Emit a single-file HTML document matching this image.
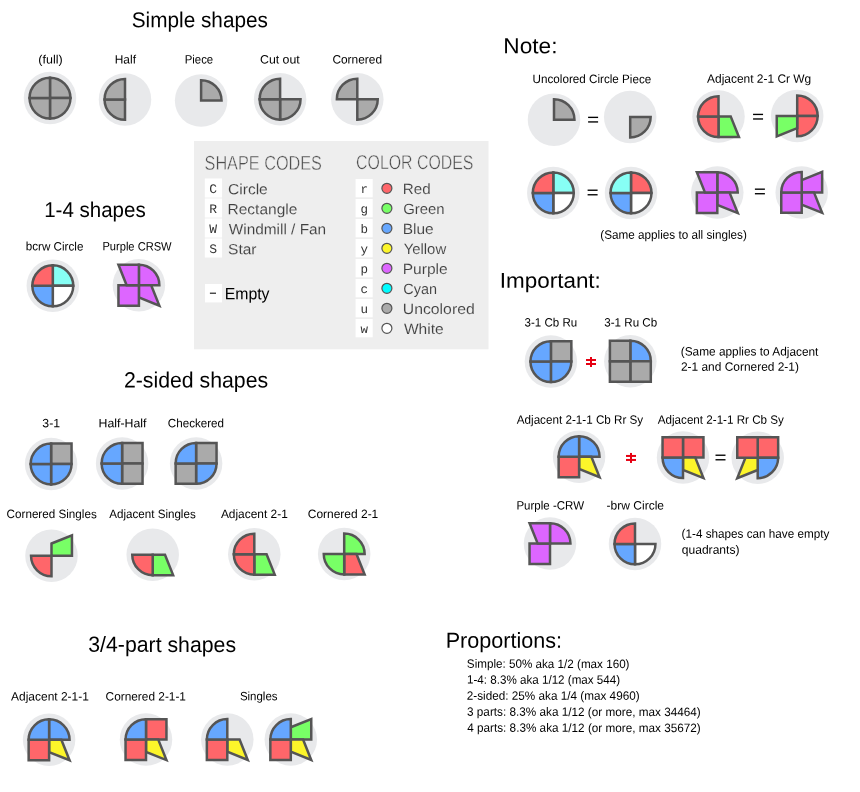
<!DOCTYPE html><html><head><meta charset="utf-8"><style>html,body{margin:0;padding:0;background:#fff}svg{display:block;will-change:transform;text-rendering:geometricPrecision}</style></head><body><svg width="860" height="792" viewBox="0 0 860 792" font-family="Liberation Sans, sans-serif"><rect width="860" height="792" fill="#fff"/><rect x="194" y="141" width="294.5" height="208.3" fill="#eeeeee"/><rect x="204.8" y="178.5" width="17.3" height="19" fill="#fff"/><rect x="204.8" y="198.5" width="17.3" height="19" fill="#fff"/><rect x="204.8" y="218.5" width="17.3" height="19" fill="#fff"/><rect x="204.8" y="238.5" width="17.3" height="19" fill="#fff"/><rect x="205" y="284" width="17" height="18.4" fill="#fff"/><rect x="355.6" y="179.0" width="17.1" height="18.3" fill="#fff"/><rect x="355.6" y="199.0" width="17.1" height="18.3" fill="#fff"/><rect x="355.6" y="219.0" width="17.1" height="18.3" fill="#fff"/><rect x="355.6" y="239.0" width="17.1" height="18.3" fill="#fff"/><rect x="355.6" y="259.0" width="17.1" height="18.3" fill="#fff"/><rect x="355.6" y="279.0" width="17.1" height="18.3" fill="#fff"/><rect x="355.6" y="299.0" width="17.1" height="18.3" fill="#fff"/><rect x="355.6" y="319.0" width="17.1" height="18.3" fill="#fff"/><circle cx="386.9" cy="188.3" r="5" fill="#ff666a" stroke="#555" stroke-width="1.2"/><circle cx="386.9" cy="208.3" r="5" fill="#78ff66" stroke="#555" stroke-width="1.2"/><circle cx="386.9" cy="228.3" r="5" fill="#66a7ff" stroke="#555" stroke-width="1.2"/><circle cx="386.9" cy="248.3" r="5" fill="#fcf52a" stroke="#555" stroke-width="1.2"/><circle cx="386.9" cy="268.3" r="5" fill="#dd66ff" stroke="#555" stroke-width="1.2"/><circle cx="386.9" cy="288.3" r="5" fill="#00fcff" stroke="#555" stroke-width="1.2"/><circle cx="386.9" cy="308.3" r="5" fill="#aaaaaa" stroke="#555" stroke-width="1.2"/><circle cx="386.9" cy="328.3" r="5" fill="#ffffff" stroke="#555" stroke-width="1.2"/><text x="213.2" y="192.8" font-family="Liberation Mono, monospace" font-size="13" fill="#333" text-anchor="middle">C</text><text x="213.2" y="212.8" font-family="Liberation Mono, monospace" font-size="13" fill="#333" text-anchor="middle">R</text><text x="213.2" y="232.8" font-family="Liberation Mono, monospace" font-size="13" fill="#333" text-anchor="middle">W</text><text x="213.2" y="252.8" font-family="Liberation Mono, monospace" font-size="13" fill="#333" text-anchor="middle">S</text><text x="364.3" y="193.0" font-family="Liberation Mono, monospace" font-size="12.5" fill="#333" text-anchor="middle">r</text><text x="364.3" y="213.0" font-family="Liberation Mono, monospace" font-size="12.5" fill="#333" text-anchor="middle">g</text><text x="364.3" y="233.0" font-family="Liberation Mono, monospace" font-size="12.5" fill="#333" text-anchor="middle">b</text><text x="364.3" y="253.0" font-family="Liberation Mono, monospace" font-size="12.5" fill="#333" text-anchor="middle">y</text><text x="364.3" y="273.0" font-family="Liberation Mono, monospace" font-size="12.5" fill="#333" text-anchor="middle">p</text><text x="364.3" y="293.0" font-family="Liberation Mono, monospace" font-size="12.5" fill="#333" text-anchor="middle">c</text><text x="364.3" y="313.0" font-family="Liberation Mono, monospace" font-size="12.5" fill="#333" text-anchor="middle">u</text><text x="364.3" y="333.0" font-family="Liberation Mono, monospace" font-size="12.5" fill="#333" text-anchor="middle">w</text><rect x="209.9" y="292.65" width="6.1" height="1.1" fill="#111"/><g transform="translate(50,98.1)"><circle r="26.25" fill="#e8e9eb"/><path transform="rotate(0)" d="M0,0L0,-20.45A20.45,20.45 0 0 1 20.45,0Z" fill="#aaaaaa" stroke="#555555" stroke-width="2.5" stroke-miterlimit="10"/><path transform="rotate(90)" d="M0,0L0,-20.45A20.45,20.45 0 0 1 20.45,0Z" fill="#aaaaaa" stroke="#555555" stroke-width="2.5" stroke-miterlimit="10"/><path transform="rotate(180)" d="M0,0L0,-20.45A20.45,20.45 0 0 1 20.45,0Z" fill="#aaaaaa" stroke="#555555" stroke-width="2.5" stroke-miterlimit="10"/><path transform="rotate(270)" d="M0,0L0,-20.45A20.45,20.45 0 0 1 20.45,0Z" fill="#aaaaaa" stroke="#555555" stroke-width="2.5" stroke-miterlimit="10"/></g><g transform="translate(125,99.4)"><circle r="26.25" fill="#e8e9eb"/><path transform="rotate(180)" d="M0,0L0,-20.45A20.45,20.45 0 0 1 20.45,0Z" fill="#aaaaaa" stroke="#555555" stroke-width="2.5" stroke-miterlimit="10"/><path transform="rotate(270)" d="M0,0L0,-20.45A20.45,20.45 0 0 1 20.45,0Z" fill="#aaaaaa" stroke="#555555" stroke-width="2.5" stroke-miterlimit="10"/></g><g transform="translate(201.1,100.6)"><circle r="26.25" fill="#e8e9eb"/><path transform="rotate(0)" d="M0,0L0,-20.45A20.45,20.45 0 0 1 20.45,0Z" fill="#aaaaaa" stroke="#555555" stroke-width="2.5" stroke-miterlimit="10"/></g><g transform="translate(280.1,99.2)"><circle r="26.25" fill="#e8e9eb"/><path transform="rotate(90)" d="M0,0L0,-20.45A20.45,20.45 0 0 1 20.45,0Z" fill="#aaaaaa" stroke="#555555" stroke-width="2.5" stroke-miterlimit="10"/><path transform="rotate(180)" d="M0,0L0,-20.45A20.45,20.45 0 0 1 20.45,0Z" fill="#aaaaaa" stroke="#555555" stroke-width="2.5" stroke-miterlimit="10"/><path transform="rotate(270)" d="M0,0L0,-20.45A20.45,20.45 0 0 1 20.45,0Z" fill="#aaaaaa" stroke="#555555" stroke-width="2.5" stroke-miterlimit="10"/></g><g transform="translate(357.3,99.2)"><circle r="26.25" fill="#e8e9eb"/><path transform="rotate(90)" d="M0,0L0,-20.45A20.45,20.45 0 0 1 20.45,0Z" fill="#aaaaaa" stroke="#555555" stroke-width="2.5" stroke-miterlimit="10"/><path transform="rotate(270)" d="M0,0L0,-20.45A20.45,20.45 0 0 1 20.45,0Z" fill="#aaaaaa" stroke="#555555" stroke-width="2.5" stroke-miterlimit="10"/></g><g transform="translate(52.8,285.8)"><circle r="26.25" fill="#e8e9eb"/><path transform="rotate(0)" d="M0,0L0,-20.45A20.45,20.45 0 0 1 20.45,0Z" fill="#87fff5" stroke="#555555" stroke-width="2.5" stroke-miterlimit="10"/><path transform="rotate(90)" d="M0,0L0,-20.45A20.45,20.45 0 0 1 20.45,0Z" fill="#ffffff" stroke="#555555" stroke-width="2.5" stroke-miterlimit="10"/><path transform="rotate(180)" d="M0,0L0,-20.45A20.45,20.45 0 0 1 20.45,0Z" fill="#66a7ff" stroke="#555555" stroke-width="2.5" stroke-miterlimit="10"/><path transform="rotate(270)" d="M0,0L0,-20.45A20.45,20.45 0 0 1 20.45,0Z" fill="#ff666a" stroke="#555555" stroke-width="2.5" stroke-miterlimit="10"/></g><g transform="translate(138.9,285.2)"><circle r="26.25" fill="#e8e9eb"/><path transform="rotate(0)" d="M0,0L0,-20.45A20.45,20.45 0 0 1 20.45,0Z" fill="#dd66ff" stroke="#555555" stroke-width="2.5" stroke-miterlimit="10"/><path transform="rotate(90)" d="M0,-12.27L20.45,-20.45L12.27,0L0,0Z" fill="#dd66ff" stroke="#555555" stroke-width="2.5" stroke-miterlimit="10"/><path transform="rotate(180)" d="M0,0L0,-20.45L20.45,-20.45L20.45,0Z" fill="#dd66ff" stroke="#555555" stroke-width="2.5" stroke-miterlimit="10"/><path transform="rotate(270)" d="M0,-12.27L20.45,-20.45L20.45,0L0,0Z" fill="#dd66ff" stroke="#555555" stroke-width="2.5" stroke-miterlimit="10"/></g><g transform="translate(51.1,464.0)"><circle r="26.25" fill="#e8e9eb"/><path transform="rotate(0)" d="M0,0L0,-20.45L20.45,-20.45L20.45,0Z" fill="#aaaaaa" stroke="#555555" stroke-width="2.5" stroke-miterlimit="10"/><path transform="rotate(90)" d="M0,0L0,-20.45A20.45,20.45 0 0 1 20.45,0Z" fill="#66a7ff" stroke="#555555" stroke-width="2.5" stroke-miterlimit="10"/><path transform="rotate(180)" d="M0,0L0,-20.45A20.45,20.45 0 0 1 20.45,0Z" fill="#66a7ff" stroke="#555555" stroke-width="2.5" stroke-miterlimit="10"/><path transform="rotate(270)" d="M0,0L0,-20.45A20.45,20.45 0 0 1 20.45,0Z" fill="#66a7ff" stroke="#555555" stroke-width="2.5" stroke-miterlimit="10"/></g><g transform="translate(122.1,463.4)"><circle r="26.25" fill="#e8e9eb"/><path transform="rotate(0)" d="M0,0L0,-20.45L20.45,-20.45L20.45,0Z" fill="#aaaaaa" stroke="#555555" stroke-width="2.5" stroke-miterlimit="10"/><path transform="rotate(90)" d="M0,0L0,-20.45L20.45,-20.45L20.45,0Z" fill="#aaaaaa" stroke="#555555" stroke-width="2.5" stroke-miterlimit="10"/><path transform="rotate(180)" d="M0,0L0,-20.45A20.45,20.45 0 0 1 20.45,0Z" fill="#66a7ff" stroke="#555555" stroke-width="2.5" stroke-miterlimit="10"/><path transform="rotate(270)" d="M0,0L0,-20.45A20.45,20.45 0 0 1 20.45,0Z" fill="#66a7ff" stroke="#555555" stroke-width="2.5" stroke-miterlimit="10"/></g><g transform="translate(196.1,463.4)"><circle r="26.25" fill="#e8e9eb"/><path transform="rotate(0)" d="M0,0L0,-20.45L20.45,-20.45L20.45,0Z" fill="#aaaaaa" stroke="#555555" stroke-width="2.5" stroke-miterlimit="10"/><path transform="rotate(90)" d="M0,0L0,-20.45A20.45,20.45 0 0 1 20.45,0Z" fill="#66a7ff" stroke="#555555" stroke-width="2.5" stroke-miterlimit="10"/><path transform="rotate(180)" d="M0,0L0,-20.45L20.45,-20.45L20.45,0Z" fill="#aaaaaa" stroke="#555555" stroke-width="2.5" stroke-miterlimit="10"/><path transform="rotate(270)" d="M0,0L0,-20.45A20.45,20.45 0 0 1 20.45,0Z" fill="#66a7ff" stroke="#555555" stroke-width="2.5" stroke-miterlimit="10"/></g><g transform="translate(51.5,555.8)"><circle r="26.25" fill="#e8e9eb"/><path transform="rotate(0)" d="M0,-12.27L20.45,-20.45L20.45,0L0,0Z" fill="#78ff66" stroke="#555555" stroke-width="2.5" stroke-miterlimit="10"/><path transform="rotate(180)" d="M0,0L0,-20.45A20.45,20.45 0 0 1 20.45,0Z" fill="#ff666a" stroke="#555555" stroke-width="2.5" stroke-miterlimit="10"/></g><g transform="translate(152.7,554.7)"><circle r="26.25" fill="#e8e9eb"/><path transform="rotate(90)" d="M0,-12.27L20.45,-20.45L20.45,0L0,0Z" fill="#78ff66" stroke="#555555" stroke-width="2.5" stroke-miterlimit="10"/><path transform="rotate(180)" d="M0,0L0,-20.45A20.45,20.45 0 0 1 20.45,0Z" fill="#ff666a" stroke="#555555" stroke-width="2.5" stroke-miterlimit="10"/></g><g transform="translate(254.3,554.2)"><circle r="26.25" fill="#e8e9eb"/><path transform="rotate(90)" d="M0,-12.27L20.45,-20.45L20.45,0L0,0Z" fill="#78ff66" stroke="#555555" stroke-width="2.5" stroke-miterlimit="10"/><path transform="rotate(180)" d="M0,0L0,-20.45A20.45,20.45 0 0 1 20.45,0Z" fill="#ff666a" stroke="#555555" stroke-width="2.5" stroke-miterlimit="10"/><path transform="rotate(270)" d="M0,0L0,-20.45A20.45,20.45 0 0 1 20.45,0Z" fill="#ff666a" stroke="#555555" stroke-width="2.5" stroke-miterlimit="10"/></g><g transform="translate(344.2,554.0)"><circle r="26.25" fill="#e8e9eb"/><path transform="rotate(0)" d="M0,0L0,-20.45A20.45,20.45 0 0 1 20.45,0Z" fill="#78ff66" stroke="#555555" stroke-width="2.5" stroke-miterlimit="10"/><path transform="rotate(90)" d="M0,-12.27L20.45,-20.45L20.45,0L0,0Z" fill="#ff666a" stroke="#555555" stroke-width="2.5" stroke-miterlimit="10"/><path transform="rotate(180)" d="M0,0L0,-20.45A20.45,20.45 0 0 1 20.45,0Z" fill="#78ff66" stroke="#555555" stroke-width="2.5" stroke-miterlimit="10"/></g><g transform="translate(49.1,739.8)"><circle r="26.25" fill="#e8e9eb"/><path transform="rotate(0)" d="M0,0L0,-20.45A20.45,20.45 0 0 1 20.45,0Z" fill="#66a7ff" stroke="#555555" stroke-width="2.5" stroke-miterlimit="10"/><path transform="rotate(90)" d="M0,-12.27L20.45,-20.45L12.27,0L0,0Z" fill="#fcf52a" stroke="#555555" stroke-width="2.5" stroke-miterlimit="10"/><path transform="rotate(180)" d="M0,0L0,-20.45L20.45,-20.45L20.45,0Z" fill="#ff666a" stroke="#555555" stroke-width="2.5" stroke-miterlimit="10"/><path transform="rotate(270)" d="M0,0L0,-20.45A20.45,20.45 0 0 1 20.45,0Z" fill="#66a7ff" stroke="#555555" stroke-width="2.5" stroke-miterlimit="10"/></g><g transform="translate(146.0,739.6)"><circle r="26.25" fill="#e8e9eb"/><path transform="rotate(0)" d="M0,0L0,-20.45L20.45,-20.45L20.45,0Z" fill="#ff666a" stroke="#555555" stroke-width="2.5" stroke-miterlimit="10"/><path transform="rotate(90)" d="M0,-12.27L20.45,-20.45L12.27,0L0,0Z" fill="#fcf52a" stroke="#555555" stroke-width="2.5" stroke-miterlimit="10"/><path transform="rotate(180)" d="M0,0L0,-20.45L20.45,-20.45L20.45,0Z" fill="#ff666a" stroke="#555555" stroke-width="2.5" stroke-miterlimit="10"/><path transform="rotate(270)" d="M0,0L0,-20.45A20.45,20.45 0 0 1 20.45,0Z" fill="#66a7ff" stroke="#555555" stroke-width="2.5" stroke-miterlimit="10"/></g><g transform="translate(227.3,739.5)"><circle r="26.25" fill="#e8e9eb"/><path transform="rotate(90)" d="M0,-12.27L20.45,-20.45L12.27,0L0,0Z" fill="#fcf52a" stroke="#555555" stroke-width="2.5" stroke-miterlimit="10"/><path transform="rotate(180)" d="M0,0L0,-20.45L20.45,-20.45L20.45,0Z" fill="#ff666a" stroke="#555555" stroke-width="2.5" stroke-miterlimit="10"/><path transform="rotate(270)" d="M0,0L0,-20.45A20.45,20.45 0 0 1 20.45,0Z" fill="#66a7ff" stroke="#555555" stroke-width="2.5" stroke-miterlimit="10"/></g><g transform="translate(290.8,739.5)"><circle r="26.25" fill="#e8e9eb"/><path transform="rotate(0)" d="M0,-12.27L20.45,-20.45L20.45,0L0,0Z" fill="#78ff66" stroke="#555555" stroke-width="2.5" stroke-miterlimit="10"/><path transform="rotate(90)" d="M0,-12.27L20.45,-20.45L12.27,0L0,0Z" fill="#fcf52a" stroke="#555555" stroke-width="2.5" stroke-miterlimit="10"/><path transform="rotate(180)" d="M0,0L0,-20.45L20.45,-20.45L20.45,0Z" fill="#ff666a" stroke="#555555" stroke-width="2.5" stroke-miterlimit="10"/><path transform="rotate(270)" d="M0,0L0,-20.45A20.45,20.45 0 0 1 20.45,0Z" fill="#66a7ff" stroke="#555555" stroke-width="2.5" stroke-miterlimit="10"/></g><g transform="translate(554.0,119.7)"><circle r="26.25" fill="#e8e9eb"/><path transform="rotate(0)" d="M0,0L0,-20.45A20.45,20.45 0 0 1 20.45,0Z" fill="#aaaaaa" stroke="#555555" stroke-width="2.5" stroke-miterlimit="10"/></g><g transform="translate(630.2,117.0)"><circle r="26.25" fill="#e8e9eb"/><path transform="rotate(90)" d="M0,0L0,-20.45A20.45,20.45 0 0 1 20.45,0Z" fill="#aaaaaa" stroke="#555555" stroke-width="2.5" stroke-miterlimit="10"/></g><g transform="translate(718.5,116.6)"><circle r="26.25" fill="#e8e9eb"/><path transform="rotate(90)" d="M0,-12.27L20.45,-20.45L20.45,0L0,0Z" fill="#78ff66" stroke="#555555" stroke-width="2.5" stroke-miterlimit="10"/><path transform="rotate(180)" d="M0,0L0,-20.45A20.45,20.45 0 0 1 20.45,0Z" fill="#ff666a" stroke="#555555" stroke-width="2.5" stroke-miterlimit="10"/><path transform="rotate(270)" d="M0,0L0,-20.45A20.45,20.45 0 0 1 20.45,0Z" fill="#ff666a" stroke="#555555" stroke-width="2.5" stroke-miterlimit="10"/></g><g transform="translate(797.2,115.9)"><circle r="26.25" fill="#e8e9eb"/><path transform="rotate(0)" d="M0,0L0,-20.45A20.45,20.45 0 0 1 20.45,0Z" fill="#ff666a" stroke="#555555" stroke-width="2.5" stroke-miterlimit="10"/><path transform="rotate(90)" d="M0,0L0,-20.45A20.45,20.45 0 0 1 20.45,0Z" fill="#ff666a" stroke="#555555" stroke-width="2.5" stroke-miterlimit="10"/><path transform="rotate(180)" d="M0,-12.27L20.45,-20.45L20.45,0L0,0Z" fill="#78ff66" stroke="#555555" stroke-width="2.5" stroke-miterlimit="10"/></g><g transform="translate(553.3,192.9)"><circle r="26.25" fill="#e8e9eb"/><path transform="rotate(0)" d="M0,0L0,-20.45A20.45,20.45 0 0 1 20.45,0Z" fill="#87fff5" stroke="#555555" stroke-width="2.5" stroke-miterlimit="10"/><path transform="rotate(90)" d="M0,0L0,-20.45A20.45,20.45 0 0 1 20.45,0Z" fill="#ffffff" stroke="#555555" stroke-width="2.5" stroke-miterlimit="10"/><path transform="rotate(180)" d="M0,0L0,-20.45A20.45,20.45 0 0 1 20.45,0Z" fill="#66a7ff" stroke="#555555" stroke-width="2.5" stroke-miterlimit="10"/><path transform="rotate(270)" d="M0,0L0,-20.45A20.45,20.45 0 0 1 20.45,0Z" fill="#ff666a" stroke="#555555" stroke-width="2.5" stroke-miterlimit="10"/></g><g transform="translate(631.0,192.9)"><circle r="26.25" fill="#e8e9eb"/><path transform="rotate(0)" d="M0,0L0,-20.45A20.45,20.45 0 0 1 20.45,0Z" fill="#ff666a" stroke="#555555" stroke-width="2.5" stroke-miterlimit="10"/><path transform="rotate(90)" d="M0,0L0,-20.45A20.45,20.45 0 0 1 20.45,0Z" fill="#ffffff" stroke="#555555" stroke-width="2.5" stroke-miterlimit="10"/><path transform="rotate(180)" d="M0,0L0,-20.45A20.45,20.45 0 0 1 20.45,0Z" fill="#66a7ff" stroke="#555555" stroke-width="2.5" stroke-miterlimit="10"/><path transform="rotate(270)" d="M0,0L0,-20.45A20.45,20.45 0 0 1 20.45,0Z" fill="#87fff5" stroke="#555555" stroke-width="2.5" stroke-miterlimit="10"/></g><g transform="translate(717.3,192.6)"><circle r="26.25" fill="#e8e9eb"/><path transform="rotate(0)" d="M0,0L0,-20.45A20.45,20.45 0 0 1 20.45,0Z" fill="#dd66ff" stroke="#555555" stroke-width="2.5" stroke-miterlimit="10"/><path transform="rotate(90)" d="M0,-12.27L20.45,-20.45L12.27,0L0,0Z" fill="#dd66ff" stroke="#555555" stroke-width="2.5" stroke-miterlimit="10"/><path transform="rotate(180)" d="M0,0L0,-20.45L20.45,-20.45L20.45,0Z" fill="#dd66ff" stroke="#555555" stroke-width="2.5" stroke-miterlimit="10"/><path transform="rotate(270)" d="M0,-12.27L20.45,-20.45L20.45,0L0,0Z" fill="#dd66ff" stroke="#555555" stroke-width="2.5" stroke-miterlimit="10"/></g><g transform="translate(801.7,192.4)"><circle r="26.25" fill="#e8e9eb"/><path transform="rotate(0)" d="M0,-12.27L20.45,-20.45L20.45,0L0,0Z" fill="#dd66ff" stroke="#555555" stroke-width="2.5" stroke-miterlimit="10"/><path transform="rotate(90)" d="M0,-12.27L20.45,-20.45L12.27,0L0,0Z" fill="#dd66ff" stroke="#555555" stroke-width="2.5" stroke-miterlimit="10"/><path transform="rotate(180)" d="M0,0L0,-20.45L20.45,-20.45L20.45,0Z" fill="#dd66ff" stroke="#555555" stroke-width="2.5" stroke-miterlimit="10"/><path transform="rotate(270)" d="M0,0L0,-20.45A20.45,20.45 0 0 1 20.45,0Z" fill="#dd66ff" stroke="#555555" stroke-width="2.5" stroke-miterlimit="10"/></g><g transform="translate(550.9,361.6)"><circle r="26.25" fill="#e8e9eb"/><path transform="rotate(0)" d="M0,0L0,-20.45L20.45,-20.45L20.45,0Z" fill="#aaaaaa" stroke="#555555" stroke-width="2.5" stroke-miterlimit="10"/><path transform="rotate(90)" d="M0,0L0,-20.45A20.45,20.45 0 0 1 20.45,0Z" fill="#66a7ff" stroke="#555555" stroke-width="2.5" stroke-miterlimit="10"/><path transform="rotate(180)" d="M0,0L0,-20.45A20.45,20.45 0 0 1 20.45,0Z" fill="#66a7ff" stroke="#555555" stroke-width="2.5" stroke-miterlimit="10"/><path transform="rotate(270)" d="M0,0L0,-20.45A20.45,20.45 0 0 1 20.45,0Z" fill="#66a7ff" stroke="#555555" stroke-width="2.5" stroke-miterlimit="10"/></g><g transform="translate(630.35,361.2)"><circle r="26.25" fill="#e8e9eb"/><path transform="rotate(0)" d="M0,0L0,-20.45A20.45,20.45 0 0 1 20.45,0Z" fill="#66a7ff" stroke="#555555" stroke-width="2.5" stroke-miterlimit="10"/><path transform="rotate(90)" d="M0,0L0,-20.45L20.45,-20.45L20.45,0Z" fill="#aaaaaa" stroke="#555555" stroke-width="2.5" stroke-miterlimit="10"/><path transform="rotate(180)" d="M0,0L0,-20.45L20.45,-20.45L20.45,0Z" fill="#aaaaaa" stroke="#555555" stroke-width="2.5" stroke-miterlimit="10"/><path transform="rotate(270)" d="M0,0L0,-20.45L20.45,-20.45L20.45,0Z" fill="#aaaaaa" stroke="#555555" stroke-width="2.5" stroke-miterlimit="10"/></g><g transform="translate(579.1,456.7)"><circle r="26.25" fill="#e8e9eb"/><path transform="rotate(0)" d="M0,0L0,-20.45A20.45,20.45 0 0 1 20.45,0Z" fill="#66a7ff" stroke="#555555" stroke-width="2.5" stroke-miterlimit="10"/><path transform="rotate(90)" d="M0,-12.27L20.45,-20.45L12.27,0L0,0Z" fill="#fcf52a" stroke="#555555" stroke-width="2.5" stroke-miterlimit="10"/><path transform="rotate(180)" d="M0,0L0,-20.45L20.45,-20.45L20.45,0Z" fill="#ff666a" stroke="#555555" stroke-width="2.5" stroke-miterlimit="10"/><path transform="rotate(270)" d="M0,0L0,-20.45A20.45,20.45 0 0 1 20.45,0Z" fill="#66a7ff" stroke="#555555" stroke-width="2.5" stroke-miterlimit="10"/></g><g transform="translate(683.0,457.6)"><circle r="26.25" fill="#e8e9eb"/><path transform="rotate(0)" d="M0,0L0,-20.45L20.45,-20.45L20.45,0Z" fill="#ff666a" stroke="#555555" stroke-width="2.5" stroke-miterlimit="10"/><path transform="rotate(90)" d="M0,-12.27L20.45,-20.45L12.27,0L0,0Z" fill="#fcf52a" stroke="#555555" stroke-width="2.5" stroke-miterlimit="10"/><path transform="rotate(180)" d="M0,0L0,-20.45A20.45,20.45 0 0 1 20.45,0Z" fill="#66a7ff" stroke="#555555" stroke-width="2.5" stroke-miterlimit="10"/><path transform="rotate(270)" d="M0,0L0,-20.45L20.45,-20.45L20.45,0Z" fill="#ff666a" stroke="#555555" stroke-width="2.5" stroke-miterlimit="10"/></g><g transform="translate(757.7,457.7)"><circle r="26.25" fill="#e8e9eb"/><path transform="rotate(0)" d="M0,0L0,-20.45L20.45,-20.45L20.45,0Z" fill="#ff666a" stroke="#555555" stroke-width="2.5" stroke-miterlimit="10"/><path transform="rotate(90)" d="M0,0L0,-20.45A20.45,20.45 0 0 1 20.45,0Z" fill="#66a7ff" stroke="#555555" stroke-width="2.5" stroke-miterlimit="10"/><path transform="rotate(180)" d="M0,-12.27L20.45,-20.45L12.27,0L0,0Z" fill="#fcf52a" stroke="#555555" stroke-width="2.5" stroke-miterlimit="10"/><path transform="rotate(270)" d="M0,0L0,-20.45L20.45,-20.45L20.45,0Z" fill="#ff666a" stroke="#555555" stroke-width="2.5" stroke-miterlimit="10"/></g><g transform="translate(550.0,543.6)"><circle r="26.25" fill="#e8e9eb"/><path transform="rotate(0)" d="M0,0L0,-20.45A20.45,20.45 0 0 1 20.45,0Z" fill="#dd66ff" stroke="#555555" stroke-width="2.5" stroke-miterlimit="10"/><path transform="rotate(180)" d="M0,0L0,-20.45L20.45,-20.45L20.45,0Z" fill="#dd66ff" stroke="#555555" stroke-width="2.5" stroke-miterlimit="10"/><path transform="rotate(270)" d="M0,-12.27L20.45,-20.45L20.45,0L0,0Z" fill="#dd66ff" stroke="#555555" stroke-width="2.5" stroke-miterlimit="10"/></g><g transform="translate(635.0,543.9)"><circle r="26.25" fill="#e8e9eb"/><path transform="rotate(90)" d="M0,0L0,-20.45A20.45,20.45 0 0 1 20.45,0Z" fill="#ffffff" stroke="#555555" stroke-width="2.5" stroke-miterlimit="10"/><path transform="rotate(180)" d="M0,0L0,-20.45A20.45,20.45 0 0 1 20.45,0Z" fill="#66a7ff" stroke="#555555" stroke-width="2.5" stroke-miterlimit="10"/><path transform="rotate(270)" d="M0,0L0,-20.45A20.45,20.45 0 0 1 20.45,0Z" fill="#ff666a" stroke="#555555" stroke-width="2.5" stroke-miterlimit="10"/></g><text transform="rotate(0.05 199.9 27.30)" x="131.76" y="27.30" font-size="21.657" fill="#000" textLength="136.19" lengthAdjust="spacingAndGlyphs">Simple shapes</text><text transform="rotate(0.05 50.5 63.50)" x="38.29" y="63.50" font-size="12.064" fill="#000" textLength="24.34" lengthAdjust="spacingAndGlyphs">(full)</text><text transform="rotate(0.05 125.9 63.40)" x="114.77" y="63.40" font-size="12.064" fill="#000" textLength="21.21" lengthAdjust="spacingAndGlyphs">Half</text><text transform="rotate(0.05 199.1 63.50)" x="184.66" y="63.50" font-size="12.064" fill="#000" textLength="28.54" lengthAdjust="spacingAndGlyphs">Piece</text><text transform="rotate(0.05 280.1 63.50)" x="259.97" y="63.50" font-size="12.064" fill="#000" textLength="39.82" lengthAdjust="spacingAndGlyphs">Cut out</text><text transform="rotate(0.05 357.1 63.50)" x="332.39" y="63.50" font-size="12.064" fill="#000" textLength="49.67" lengthAdjust="spacingAndGlyphs">Cornered</text><text transform="rotate(0.05 95.3 217.00)" x="44.14" y="217.00" font-size="21.367" fill="#000" textLength="101.61" lengthAdjust="spacingAndGlyphs">1-4 shapes</text><text transform="rotate(0.05 54.7 250.40)" x="25.75" y="250.40" font-size="12.064" fill="#000" textLength="57.67" lengthAdjust="spacingAndGlyphs">bcrw Circle</text><text transform="rotate(0.05 137.4 250.40)" x="102.39" y="250.40" font-size="12.064" fill="#000" textLength="69.25" lengthAdjust="spacingAndGlyphs">Purple CRSW</text><text transform="rotate(0.05 196.2 387.50)" x="123.93" y="387.50" font-size="22.093" fill="#000" textLength="144.24" lengthAdjust="spacingAndGlyphs">2-sided shapes</text><text transform="rotate(0.05 51.1 427.20)" x="42.33" y="427.20" font-size="12.064" fill="#000" textLength="17.77" lengthAdjust="spacingAndGlyphs">3-1</text><text transform="rotate(0.05 123.0 427.20)" x="98.59" y="427.20" font-size="12.064" fill="#000" textLength="47.89" lengthAdjust="spacingAndGlyphs">Half-Half</text><text transform="rotate(0.05 195.9 427.20)" x="167.81" y="427.20" font-size="12.064" fill="#000" textLength="56.24" lengthAdjust="spacingAndGlyphs">Checkered</text><text transform="rotate(0.05 51.8 518.10)" x="6.61" y="518.10" font-size="12.064" fill="#000" textLength="90.11" lengthAdjust="spacingAndGlyphs">Cornered Singles</text><text transform="rotate(0.05 152.3 518.10)" x="109.28" y="518.10" font-size="12.064" fill="#000" textLength="86.44" lengthAdjust="spacingAndGlyphs">Adjacent Singles</text><text transform="rotate(0.05 254.1 518.10)" x="220.88" y="518.10" font-size="12.064" fill="#000" textLength="66.91" lengthAdjust="spacingAndGlyphs">Adjacent 2-1</text><text transform="rotate(0.05 343.0 518.10)" x="307.79" y="518.10" font-size="12.064" fill="#000" textLength="70.49" lengthAdjust="spacingAndGlyphs">Cornered 2-1</text><text transform="rotate(0.05 162.2 651.90)" x="88.29" y="651.90" font-size="21.803" fill="#000" textLength="147.78" lengthAdjust="spacingAndGlyphs">3/4-part shapes</text><text transform="rotate(0.05 49.7 700.60)" x="11.08" y="700.60" font-size="12.064" fill="#000" textLength="77.81" lengthAdjust="spacingAndGlyphs">Adjacent 2-1-1</text><text transform="rotate(0.05 145.8 700.60)" x="105.60" y="700.60" font-size="12.064" fill="#000" textLength="80.38" lengthAdjust="spacingAndGlyphs">Cornered 2-1-1</text><text transform="rotate(0.05 258.8 700.30)" x="239.88" y="700.30" font-size="12.064" fill="#000" textLength="37.64" lengthAdjust="spacingAndGlyphs">Singles</text><text transform="rotate(0.05 530.3 53.30)" x="503.34" y="53.30" font-size="21.657" fill="#000" textLength="54.13" lengthAdjust="spacingAndGlyphs">Note:</text><text transform="rotate(0.05 592.1 83.10)" x="532.60" y="83.10" font-size="12.064" fill="#000" textLength="118.62" lengthAdjust="spacingAndGlyphs">Uncolored Circle Piece</text><text transform="rotate(0.05 758.8 82.80)" x="707.08" y="82.80" font-size="12.064" fill="#000" textLength="104.19" lengthAdjust="spacingAndGlyphs">Adjacent 2-1 Cr Wg</text><text transform="rotate(0.05 673.5 238.80)" x="600.27" y="238.80" font-size="12.064" fill="#000" textLength="146.56" lengthAdjust="spacingAndGlyphs">(Same applies to all singles)</text><text transform="rotate(0.05 550.3 287.70)" x="499.83" y="287.70" font-size="21.367" fill="#000" textLength="101.02" lengthAdjust="spacingAndGlyphs">Important:</text><text transform="rotate(0.05 550.7 326.60)" x="524.56" y="326.60" font-size="12.064" fill="#000" textLength="52.61" lengthAdjust="spacingAndGlyphs">3-1 Cb Ru</text><text transform="rotate(0.05 630.7 326.60)" x="604.26" y="326.60" font-size="12.064" fill="#000" textLength="52.93" lengthAdjust="spacingAndGlyphs">3-1 Ru Cb</text><text transform="rotate(0.05 749.9 355.60)" x="680.76" y="355.60" font-size="12.064" fill="#000" textLength="137.62" lengthAdjust="spacingAndGlyphs">(Same applies to Adjacent</text><text transform="rotate(0.05 739.9 370.80)" x="680.90" y="370.80" font-size="12.064" fill="#000" textLength="118.04" lengthAdjust="spacingAndGlyphs">2-1 and Cornered 2-1)</text><text transform="rotate(0.05 580.0 423.80)" x="516.78" y="423.80" font-size="12.064" fill="#000" textLength="126.45" lengthAdjust="spacingAndGlyphs">Adjacent 2-1-1 Cb Rr Sy</text><text transform="rotate(0.05 720.8 423.80)" x="657.78" y="423.80" font-size="12.064" fill="#000" textLength="126.15" lengthAdjust="spacingAndGlyphs">Adjacent 2-1-1 Rr Cb Sy</text><text transform="rotate(0.05 550.7 509.50)" x="516.45" y="509.50" font-size="12.064" fill="#000" textLength="67.58" lengthAdjust="spacingAndGlyphs">Purple -CRW</text><text transform="rotate(0.05 635.3 509.50)" x="606.56" y="509.50" font-size="12.064" fill="#000" textLength="57.47" lengthAdjust="spacingAndGlyphs">-brw Circle</text><text transform="rotate(0.05 755.8 537.70)" x="681.57" y="537.70" font-size="12.064" fill="#000" textLength="147.85" lengthAdjust="spacingAndGlyphs">(1-4 shapes can have empty</text><text transform="rotate(0.05 710.5 553.70)" x="681.79" y="553.70" font-size="12.064" fill="#000" textLength="57.66" lengthAdjust="spacingAndGlyphs">quadrants)</text><text transform="rotate(0.05 503.7 647.70)" x="445.63" y="647.70" font-size="21.657" fill="#000" textLength="116.34" lengthAdjust="spacingAndGlyphs">Proportions:</text><text transform="rotate(0.05 548.1 667.90)" x="466.87" y="667.90" font-size="12.064" fill="#000" textLength="162.65" lengthAdjust="spacingAndGlyphs">Simple: 50% aka 1/2 (max 160)</text><text transform="rotate(0.05 543.6 683.70)" x="467.01" y="683.70" font-size="12.064" fill="#000" textLength="153.11" lengthAdjust="spacingAndGlyphs">1-4: 8.3% aka 1/12 (max 544)</text><text transform="rotate(0.05 553.1 699.80)" x="466.81" y="699.80" font-size="12.064" fill="#000" textLength="172.82" lengthAdjust="spacingAndGlyphs">2-sided: 25% aka 1/4 (max 4960)</text><text transform="rotate(0.05 583.8 715.90)" x="467.05" y="715.90" font-size="12.064" fill="#000" textLength="233.68" lengthAdjust="spacingAndGlyphs">3 parts: 8.3% aka 1/12 (or more, max 34464)</text><text transform="rotate(0.05 583.8 731.90)" x="467.23" y="731.90" font-size="12.064" fill="#000" textLength="233.50" lengthAdjust="spacingAndGlyphs">4 parts: 8.3% aka 1/12 (or more, max 35672)</text><text transform="rotate(0.05 263.2 169.70)" x="204.56" y="169.70" font-size="20.058" fill="#4e4e4e" stroke="#eeeeee" stroke-width="0.45" textLength="117.38" lengthAdjust="spacingAndGlyphs">SHAPE CODES</text><text transform="rotate(0.05 414.8 169.10)" x="356.09" y="169.10" font-size="20.058" fill="#4e4e4e" stroke="#eeeeee" stroke-width="0.45" textLength="117.34" lengthAdjust="spacingAndGlyphs">COLOR CODES</text><text transform="rotate(0.05 248.0 194.20)" x="228.01" y="194.20" font-size="14.826" fill="#404040" stroke="#eeeeee" stroke-width="0.1" textLength="39.78" lengthAdjust="spacingAndGlyphs">Circle</text><text transform="rotate(0.05 262.8 214.20)" x="227.53" y="214.20" font-size="14.826" fill="#404040" stroke="#eeeeee" stroke-width="0.1" textLength="69.86" lengthAdjust="spacingAndGlyphs">Rectangle</text><text transform="rotate(0.05 277.0 234.20)" x="228.73" y="234.20" font-size="14.826" fill="#404040" stroke="#eeeeee" stroke-width="0.1" textLength="97.47" lengthAdjust="spacingAndGlyphs">Windmill / Fan</text><text transform="rotate(0.05 242.6 254.30)" x="228.09" y="254.30" font-size="14.826" fill="#404040" stroke="#eeeeee" stroke-width="0.1" textLength="28.46" lengthAdjust="spacingAndGlyphs">Star</text><text transform="rotate(0.05 247.8 299.30)" x="224.70" y="299.30" font-size="16.425" fill="#000" textLength="44.83" lengthAdjust="spacingAndGlyphs">Empty</text><text transform="rotate(0.05 416.8 194.10)" x="402.76" y="194.10" font-size="14.826" fill="#404040" stroke="#eeeeee" stroke-width="0.1" textLength="27.82" lengthAdjust="spacingAndGlyphs">Red</text><text transform="rotate(0.05 423.8 214.10)" x="403.25" y="214.10" font-size="14.826" fill="#404040" stroke="#eeeeee" stroke-width="0.1" textLength="41.31" lengthAdjust="spacingAndGlyphs">Green</text><text transform="rotate(0.05 418.5 234.10)" x="402.73" y="234.10" font-size="14.826" fill="#404040" stroke="#eeeeee" stroke-width="0.1" textLength="30.96" lengthAdjust="spacingAndGlyphs">Blue</text><text transform="rotate(0.05 425.1 254.10)" x="403.67" y="254.10" font-size="14.826" fill="#404040" stroke="#eeeeee" stroke-width="0.1" textLength="42.49" lengthAdjust="spacingAndGlyphs">Yellow</text><text transform="rotate(0.05 425.5 274.10)" x="402.72" y="274.10" font-size="14.826" fill="#404040" stroke="#eeeeee" stroke-width="0.1" textLength="44.97" lengthAdjust="spacingAndGlyphs">Purple</text><text transform="rotate(0.05 420.0 294.10)" x="403.27" y="294.10" font-size="14.826" fill="#404040" stroke="#eeeeee" stroke-width="0.1" textLength="33.67" lengthAdjust="spacingAndGlyphs">Cyan</text><text transform="rotate(0.05 438.9 314.10)" x="402.78" y="314.10" font-size="14.826" fill="#404040" stroke="#eeeeee" stroke-width="0.1" textLength="71.94" lengthAdjust="spacingAndGlyphs">Uncolored</text><text transform="rotate(0.05 423.5 334.10)" x="403.93" y="334.10" font-size="14.826" fill="#404040" stroke="#eeeeee" stroke-width="0.1" textLength="39.76" lengthAdjust="spacingAndGlyphs">White</text><g fill="#e60012"><rect x="586" y="359" width="10" height="2"/><rect x="586" y="363" width="10" height="2"/><rect x="590" y="357" width="2" height="10"/></g><g fill="#e60012"><rect x="626" y="454.95" width="10" height="2"/><rect x="626" y="458.95" width="10" height="2"/><rect x="630" y="452.95" width="2" height="10"/></g><g fill="#000"><rect x="588.1" y="116.7" width="10" height="1.35"/><rect x="588.1" y="121.25" width="10" height="1.35"/></g><g fill="#000"><rect x="753.05" y="113.75" width="10" height="1.35"/><rect x="753.05" y="118.3" width="10" height="1.35"/></g><g fill="#000"><rect x="587.6" y="189.55" width="10" height="1.35"/><rect x="587.6" y="194.1" width="10" height="1.35"/></g><g fill="#000"><rect x="754.9" y="188.5" width="10" height="1.35"/><rect x="754.9" y="193.04999999999998" width="10" height="1.35"/></g><g fill="#000"><rect x="715.5" y="454.55" width="10" height="1.35"/><rect x="715.5" y="459.1" width="10" height="1.35"/></g></svg></body></html>
